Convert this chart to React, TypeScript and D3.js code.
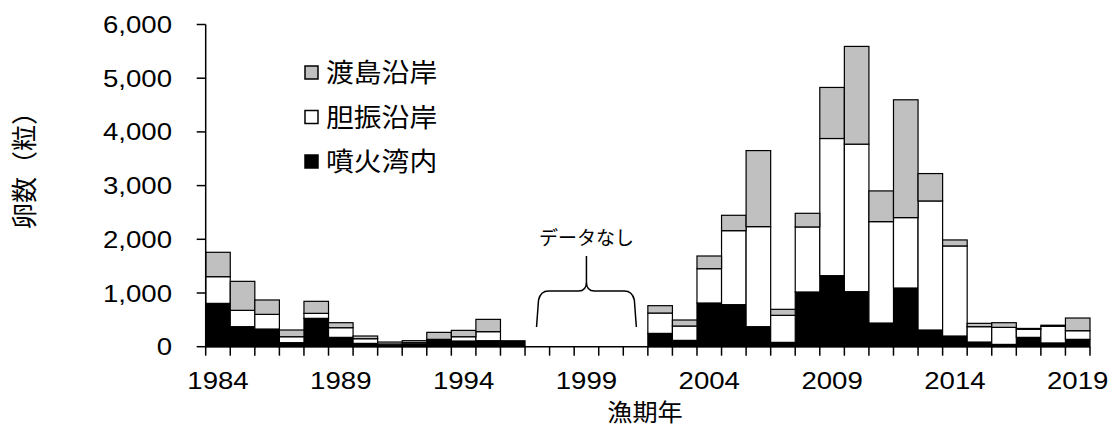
import React from "react";
import * as d3 from "d3";

const years: number[] = d3.range(1984, 2020);
// null = no data (1997-2001)
const funkaBay: (number | null)[] = [807, 373, 329, 75, 528, 174, 62, 25, 50, 124, 106, 112, 110, null, null, null, null, null, 248, 118, 814, 783, 373, 81, 1019, 1323, 1025, 441, 1093, 311, 199, 87, 43, 174, 70, 137];
const iburi: (number | null)[] = [497, 304, 273, 111, 93, 180, 87, 25, 25, 13, 80, 168, 0, null, null, null, null, null, 379, 267, 639, 1378, 1863, 503, 1211, 2554, 2747, 1888, 1311, 2403, 1677, 286, 317, 150, 310, 161];
const oshima: (number | null)[] = [454, 540, 268, 125, 224, 93, 50, 37, 37, 130, 118, 229, 0, null, null, null, null, null, 137, 112, 236, 286, 1416, 112, 254, 951, 1820, 572, 2194, 510, 112, 62, 87, 16, 20, 236];

const seriesNames = ["噴火湾内", "胆振沿岸", "渡島沿岸"];
const seriesColors = ["#000000", "#ffffff", "#c0c0c0"];
const yTicks = [0, 1000, 2000, 3000, 4000, 5000, 6000];
const xLabelYears = [1984, 1989, 1994, 1999, 2004, 2009, 2014, 2019];
const yLabel = "卵数（粒）";
const xLabel = "漁期年";
const noDataLabel = "データなし";
const noDataStart = 1997;
const noDataEnd = 2001;

const W = 1117;
const H = 432;
const left = 205.7;
const right = 1090;
const top = 24.5;
const bottom = 346.7;

const NUM_FONT = "'Liberation Sans', Arial, sans-serif";
const CJK_FONT = "'Noto Sans CJK JP', 'Noto Sans', sans-serif";

export default function App() {
  const x = d3.scaleBand<number>().domain(years).range([left, right]).padding(0);
  const y = d3.scaleLinear().domain([0, 6000]).range([bottom, top]);

  const data = years.map((yr, i) => ({
    year: yr,
    s0: funkaBay[i],
    s1: iburi[i],
    s2: oshima[i],
  }));
  const valid = data.filter((d) => d.s0 !== null);
  const stack = d3.stack<any>().keys(["s0", "s1", "s2"]);
  const layers = stack(valid as any);

  const sx = 1.15;
  const bw = x.bandwidth();
  const bx0 = x(noDataStart)! + 11.5;
  const bx1 = x(noDataEnd)! + bw - 11.5;
  const cx = (bx0 + bx1) / 2;
  const by0 = 327;
  const byMid = 291;
  const byTop = 256;
  const brace = `M${bx0},${by0} L${bx0 + 2},${byMid + 9} Q${bx0 + 4},${byMid} ${bx0 + 12},${byMid} L${cx - 8},${byMid} Q${cx},${byMid} ${cx},${byMid - 9} L${cx},${byTop} M${cx},${byMid - 9} Q${cx},${byMid} ${cx + 8},${byMid} L${bx1 - 12},${byMid} Q${bx1 - 4},${byMid} ${bx1 - 2},${byMid + 9} L${bx1},${by0}`;

  const legendItems = [2, 1, 0];

  return (
    <svg width={W} height={H} style={{ position: "absolute", left: 0, top: 0, background: "#fff" }}>
      {/* bars */}
      {layers.map((layer, li) => (
        <g key={li}>
          {layer.map((d: any, j: number) => {
            const yr = (d.data as any).year;
            const h = y(d[0]) - y(d[1]);
            if (h <= 0) return null;
            return (
              <rect
                key={j}
                x={x(yr)!}
                y={y(d[1])}
                width={bw}
                height={h}
                fill={seriesColors[li]}
                stroke="#000"
                strokeWidth={1.2}
              />
            );
          })}
        </g>
      ))}

      {/* y axis */}
      <line x1={left} x2={left} y1={top} y2={bottom} stroke="#000" strokeWidth={1.5} />
      {yTicks.map((t) => (
        <g key={t}>
          <line x1={left - 9} x2={left} y1={y(t)} y2={y(t)} stroke="#000" strokeWidth={1.5} />
          <g transform={`translate(${172},${y(t) + 8.5}) scale(${sx},1)`}>
            <text textAnchor="end" fontFamily={NUM_FONT} fontSize={24} fill="#000">
              {d3.format(",")(t)}
            </text>
          </g>
        </g>
      ))}

      {/* x axis */}
      <line x1={left} x2={right} y1={bottom} y2={bottom} stroke="#000" strokeWidth={1.5} />
      {years.concat([2020]).map((yr, i) => {
        const xx = i < years.length ? x(yr)! : right;
        return <line key={yr} x1={xx} x2={xx} y1={bottom} y2={bottom + 9} stroke="#000" strokeWidth={1.5} />;
      })}
      {xLabelYears.map((yr) => (
        <g key={yr} transform={`translate(${x(yr)! + bw / 2},${389}) scale(${sx},1)`}>
          <text textAnchor="middle" fontFamily={NUM_FONT} fontSize={24} fill="#000">
            {yr}
          </text>
        </g>
      ))}

      {/* axis titles */}
      <g transform={`translate(${645},${421}) scale(1.05,1)`}>
        <text textAnchor="middle" fontFamily={CJK_FONT} fontSize={24} fill="#000">
          {xLabel}
        </text>
      </g>
      <g transform={`translate(${34},${164}) rotate(-90)`}>
        <text textAnchor="middle" fontFamily={CJK_FONT} fontSize={26} fill="#000">
          {yLabel}
        </text>
      </g>

      {/* legend */}
      {legendItems.map((si, k) => {
        const ly = 73 + k * 44.5;
        return (
          <g key={si}>
            <rect x={305} y={ly - 7} width={13} height={13} fill={seriesColors[si]} stroke="#000" strokeWidth={1.5} />
            <g transform={`translate(${326},${ly + 9}) scale(1.07,1)`}>
              <text fontFamily={CJK_FONT} fontSize={26} fill="#000">
                {seriesNames[si]}
              </text>
            </g>
          </g>
        );
      })}

      {/* no data annotation */}
      <path d={brace} fill="none" stroke="#000" strokeWidth={1.5} />
      <g transform={`translate(${cx},${245})`}>
        <text textAnchor="middle" fontFamily={CJK_FONT} fontSize={19} fill="#000">
          {noDataLabel}
        </text>
      </g>
    </svg>
  );
}
